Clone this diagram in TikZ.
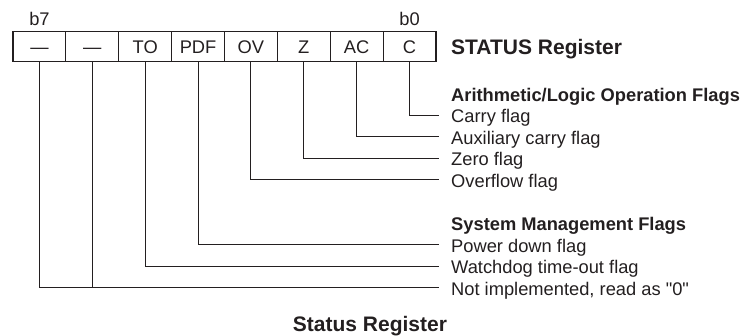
\documentclass[tikz,border=0pt]{standalone}
\usepackage{fontspec}
\setmainfont{Liberation Sans}
\definecolor{ink}{HTML}{231F20}
\newcommand\straightquote{\XeTeXglyph\XeTeXcharglyph"22\relax}
\begin{document}
\begin{tikzpicture}[x=1pt,y=-1pt,
  cell/.style={draw=ink, line width=1.1pt, minimum width=52.875pt, minimum height=30pt,
    inner sep=0pt, text height=13pt, text depth=0pt, font=\fontsize{18.3}{20}\selectfont, text=ink},
  lbl/.style={anchor=base west, inner sep=0pt, font=\fontsize{18.3}{20}\selectfont, text=ink},
  hdr/.style={anchor=base west, inner sep=0pt, font=\fontsize{18.3}{20}\selectfont\bfseries, text=ink},
  conn/.style={draw=ink, line width=0.9pt}
]
\useasboundingbox (0,0) rectangle (744,335);
% register cells
\node[cell] (cell7) at (39.44,46.7) {—};
\node[cell] (cell6) at (92.31,46.7) {—};
\node[cell] (cell5) at (145.19,46.7) {TO};
\node[cell] (cell4) at (198.06,46.7) {PDF};
\node[cell] (cell3) at (250.94,46.7) {OV};
\node[cell] (cell2) at (303.81,46.7) {Z};
\node[cell] (cell1) at (356.69,46.7) {AC};
\node[cell] (cell0) at (409.56,46.7) {C};
% bit labels
\node[anchor=base, inner sep=0pt, font=\fontsize{18.3}{20}\selectfont, text=ink] (bseven) at (39.44,25.5) {b7};
\node[anchor=base, inner sep=0pt, font=\fontsize{18.3}{20}\selectfont, text=ink] (bzero) at (409.56,25.5) {b0};
% title
\node[anchor=base west, inner sep=0pt, font=\fontsize{21}{24}\selectfont\bfseries, text=ink] (title) at (451,54.2) {STATUS Register};
% headings and labels
\node[hdr] (hA) at (451,101) {Arithmetic/Logic Operation Flags};
\node[lbl] (lC) at (451,122.5) {Carry flag};
\node[lbl] (lAC) at (451,144.1) {Auxiliary carry flag};
\node[lbl] (lZ) at (451,165.7) {Zero flag};
\node[lbl] (lOV) at (451,187.3) {Overflow flag};
\node[hdr] (hS) at (451,230.5) {System Management Flags};
\node[lbl] (lPD) at (451,252.1) {Power down flag};
\node[lbl] (lTO) at (451,273.7) {Watchdog time-out flag};
\node[lbl] (lNI) at (451,295.3) {Not implemented, read as \straightquote0\straightquote};
% connector ends
\coordinate (eC) at (439,115);
\coordinate (eAC) at (439,136.6);
\coordinate (eZ) at (439,158.2);
\coordinate (eOV) at (439,179.8);
\coordinate (ePD) at (439,244.6);
\coordinate (eTO) at (439,266.2);
\coordinate (eNI) at (439,287.8);
% connectors
\draw[conn] (cell0.south) |- (eC);
\draw[conn] (cell1.south) |- (eAC);
\draw[conn] (cell2.south) |- (eZ);
\draw[conn] (cell3.south) |- (eOV);
\draw[conn] (cell4.south) |- (ePD);
\draw[conn] (cell5.south) |- (eTO);
\draw[conn] (cell7.south) |- (eNI);
\draw[conn] (cell6.south) -- (cell6.south |- eNI);
% caption
\node[anchor=base, inner sep=0pt, font=\fontsize{21}{24}\selectfont\bfseries, text=ink] (cap) at (370,331) {Status Register};
\end{tikzpicture}
\end{document}
